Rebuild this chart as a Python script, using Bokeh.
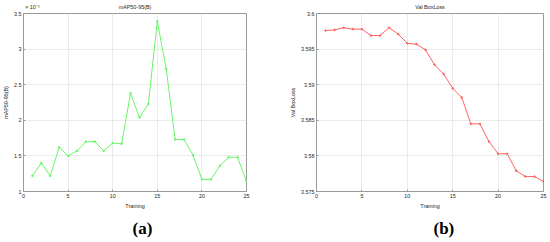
from bokeh.plotting import figure
from bokeh.layouts import row
from bokeh.models import Range1d, FixedTicker, Title, LinearAxis
from bokeh.embed import file_html
from bokeh.resources import INLINE

# ---- data ----
epochs = list(range(1, 26))
# mAP50-95(B) in units of 1e-3
map_vals = [1.22, 1.40, 1.22, 1.62, 1.50, 1.57, 1.70, 1.70, 1.57, 1.68,
            1.67, 2.38, 2.04, 2.23, 3.39, 2.72, 1.73, 1.73, 1.51, 1.17,
            1.17, 1.36, 1.48, 1.48, 1.14]
box_loss = [3.5976, 3.5977, 3.5980, 3.5978, 3.5978, 3.5969, 3.5969, 3.5980,
            3.5971, 3.5958, 3.5957, 3.5949, 3.5928, 3.5915, 3.5895, 3.5882,
            3.5845, 3.5845, 3.5820, 3.5803, 3.5803, 3.5779, 3.5771, 3.5771,
            3.5764]
x_ticks = [0, 5, 10, 15, 20, 25]
map_ticks = [1, 1.5, 2, 2.5, 3, 3.5]
map_tick_labels = ["1", "1.5", "2", "2.5", "3", "3.5"]
loss_ticks = [3.575, 3.58, 3.585, 3.59, 3.595, 3.6]
loss_tick_labels = ["3.575", "3.58", "3.585", "3.59", "3.595", "3.6"]

FONT = "Liberation Sans"
FS = "5.4px"
GRAY = "#9a9a9a"
TXT = "#262626"


def make_panel(title, ylabel, xs, ys, yticks, ylabels, color, panel_label,
               bl, br, label_offset, exponent):
    p = figure(width=275, height=242, output_backend="svg",
               toolbar_location=None,
               x_range=Range1d(0, 25),
               y_range=Range1d(yticks[0], yticks[-1]),
               min_border_left=bl, min_border_right=br,
               min_border_top=13, min_border_bottom=51)

    p.xaxis.ticker = FixedTicker(ticks=x_ticks)
    p.yaxis.ticker = FixedTicker(ticks=yticks)
    p.yaxis.major_label_overrides = {t: l for t, l in zip(yticks, ylabels)}
    p.xaxis.axis_label = "Training"
    p.yaxis.axis_label = ylabel
    for ax in (p.xaxis, p.yaxis):
        ax.axis_label_text_font = FONT
        ax.axis_label_text_font_size = FS
        ax.axis_label_text_font_style = "normal"
        ax.axis_label_text_color = TXT
        ax.axis_label_standoff = 2
        ax.major_label_text_font = FONT
        ax.major_label_text_font_size = FS
        ax.major_label_text_color = TXT
        ax.major_label_standoff = 2
        ax.axis_line_color = GRAY
        ax.major_tick_line_color = GRAY
        ax.major_tick_in = 2
        ax.major_tick_out = 0
        ax.minor_tick_line_color = None
    p.grid.grid_line_color = "#e2e2e2"
    p.grid.grid_line_width = 0.7
    p.outline_line_color = GRAY
    p.outline_line_width = 1

    # chart title (and the axis exponent) on one row above the frame
    top_ticks = [12.5]
    top_labels = {12.5: title}
    if exponent:
        top_ticks.insert(0, 1.0)
        top_labels[1.0] = exponent
    top = LinearAxis(ticker=FixedTicker(ticks=top_ticks),
                     major_label_overrides=top_labels,
                     axis_line_color=None, major_tick_line_color=None,
                     minor_tick_line_color=None, major_tick_in=0,
                     major_tick_out=0, major_label_standoff=4,
                     major_label_text_font=FONT, major_label_text_font_size=FS,
                     major_label_text_color=TXT)
    p.add_layout(top, "above")

    p.line(xs, ys, line_color=color, line_width=1)
    p.scatter(xs, ys, size=1.6, color=color)
    p.add_layout(Title(text=panel_label, align="left", offset=label_offset,
                       text_font="Liberation Serif", text_font_size="17px",
                       text_font_style="bold", text_color="#000000",
                       standoff=10), "below")
    return p


p1 = make_panel("mAP50-95(B)", "mAP50-95(B)", epochs, map_vals, map_ticks,
                map_tick_labels, "#6af56a", "(a)", 20, 29, 109, "× 10⁻³")
p2 = make_panel("Val BoxLoss", "Val BoxLoss", epochs, box_loss, loss_ticks,
                loss_tick_labels, "#ff6464", "(b)", 41, 7, 117, None)

layout = row(p1, p2)
open("out.html", "w").write(file_html(layout, INLINE))
